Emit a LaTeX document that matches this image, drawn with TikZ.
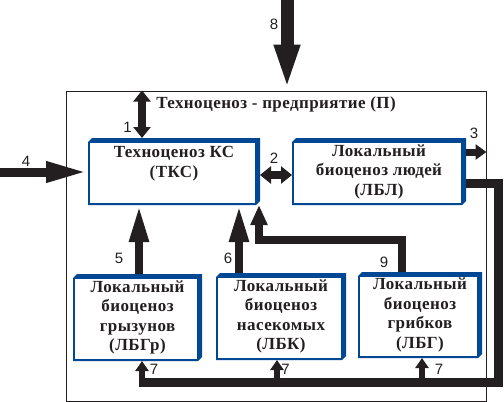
\documentclass[tikz,border=0pt]{standalone}
\usepackage{fontspec}
\setmainfont{Liberation Serif}
\newfontfamily\boxfont[LetterSpace=2.5]{Liberation Serif}
\newfontfamily\lblfont{Liberation Sans}
\usetikzlibrary{arrows.meta,calc,backgrounds}
\definecolor{ink}{RGB}{35,31,32}
\definecolor{boxblue}{RGB}{0,72,148}
\begin{document}
\begin{tikzpicture}[x=1pt,y=-1pt,
  box/.style={inner sep=0pt, outer sep=0pt, align=center, text=ink,
    font=\boxfont\bfseries\fontsize{17}{19.5}\selectfont},
  num/.style={inner sep=0pt, text=ink, font=\lblfont\fontsize{15}{15}\selectfont},
  bigarrow/.style={draw=ink, line width=13pt, -{Triangle[length=46pt,width=23pt]}},
  leftarrow/.style={draw=ink, line width=9pt, -{Triangle[length=42pt,width=19pt]}},
  uparrow/.style={draw=ink, line width=8pt, -{Triangle[length=37pt,width=18pt]}},
  dblarrow/.style={draw=ink, line width=8pt, {Triangle[length=11pt,width=17pt]}-{Triangle[length=11pt,width=17pt]}},
  rarrow/.style={draw=ink, line width=7pt, -{Triangle[length=11pt,width=15pt]}},
  feedline/.style={draw=ink, line width=9pt},
  smallup/.style={draw=ink, line width=6pt, -{Triangle[length=10pt,width=13pt]}},
  arrownine/.style={draw=ink, line width=8pt, -{Triangle[length=20pt,width=16pt]}}
]
\useasboundingbox (0,0) rectangle (504,402);

% outer enterprise frame
\node[draw=ink, line width=1pt, minimum width=420pt, minimum height=310pt, inner sep=0pt] (P) at (276,246) {};
\node[box] (title) at (276,104) {Техноценоз - предприятие (П)};

% boxes
\node[box, minimum width=172pt, minimum height=67pt] (tks) at (174,171.5) {Техноценоз КС\\(ТКС)\\ };
\node[box, minimum width=174pt, minimum height=67pt] (lbl) at (379,171.5) {Локальный\\биоценоз людей\\(ЛБЛ)};
\node[box, minimum width=129pt, minimum height=87pt] (lbgr) at (137.5,317.5) {Локальный\\биоценоз\\грызунов\\(ЛБГр)};
\node[box, minimum width=130pt, minimum height=87pt] (lbk) at (281,316.5) {Локальный\\биоценоз\\насекомых\\(ЛБК)};
\node[box, minimum width=124pt, minimum height=86pt] (lbg) at (420,315) {Локальный\\биоценоз\\грибков\\(ЛБГ)};

\begin{scope}[on background layer]
\foreach \n in {tks,lbl,lbgr,lbk,lbg}{
  \fill[boxblue] (\n.south west) -- ($(\n.north west)+(0,4)$) -- ($(\n.north west)+(4,0)$)
     -- (\n.north east) -- ($(\n.south east)+(0,-4)$) -- ($(\n.south east)+(-4,0)$) -- cycle;
  \fill[white] ($(\n.south west)+(2,-2)$) rectangle ($(\n.north east)+(-5,5)$);
}
\end{scope}

% helper coordinates
\coordinate (c8) at (287,0);
\coordinate (c1) at (142,0);
\coordinate (c2) at (0,175);
\coordinate (c3) at (0,152);
\coordinate (c4) at (0,172);
\coordinate (c5) at (139,0);
\coordinate (c6) at (239,0);
\coordinate (c9a) at (402,240);
\coordinate (c9b) at (259,240);
\coordinate (c7a) at (498,183);
\coordinate (c7b) at (139,382.5);
\coordinate (c71) at (142,382.5);
\coordinate (c72) at (277,382.5);
\coordinate (c73) at (422,382.5);

% connectors
\draw[bigarrow] (c8) -- (c8 |- P.north);
\draw[dblarrow] (c1 |- P.north) -- (c1 |- tks.north);
\draw[dblarrow] (tks.east |- c2) -- (lbl.west |- c2);
\draw[rarrow] (lbl.east |- c3) -- (P.east |- c3);
\draw[leftarrow] (c4) -- (tks.west |- c4);
\draw[uparrow] (lbgr.north -| c5) -- (tks.south -| c5);
\draw[uparrow] (lbk.north -| c6) -- (tks.south -| c6);
\draw[arrownine] (lbg.north -| c9a) -- (c9a) -- (c9b) -- (tks.south -| c9b);
\draw[feedline] (lbl.east |- c7a) -- (c7a) -- (c7a |- c7b) -- (c7b);
\draw[smallup] (c71) -- (lbgr.south -| c71);
\draw[smallup] (c72) -- (lbk.south -| c72);
\draw[smallup] (c73) -- (lbg.south -| c73);

% labels
\node[num] (n8) at (274,24.5) {8};
\node[num] (n1) at (127.5,127) {1};
\node[num] (n4) at (26,161) {4};
\node[num] (n2) at (274,158) {2};
\node[num] (n3) at (474,133) {3};
\node[num] (n5) at (119,258) {5};
\node[num] (n6) at (228,258) {6};
\node[num] (n9) at (384,262) {9};
\node[num] (n7a) at (154,369.5) {7};
\node[num] (n7b) at (285.5,369.5) {7};
\node[num] (n7c) at (439,369.5) {7};
\end{tikzpicture}
\end{document}
